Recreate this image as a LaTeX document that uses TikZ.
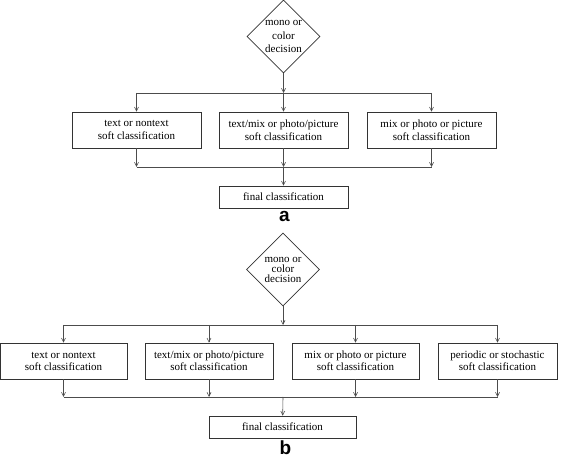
\documentclass[tikz,border=0pt]{standalone}
\usepackage{fontspec}
\setmainfont{Liberation Serif}
\newfontfamily\tagfont{Liberation Sans}
\usetikzlibrary{shapes.geometric,arrows.meta}
\tikzset{
  cls/.style={draw=black!80, line width=0.6pt, minimum height=36pt, inner sep=0pt, align=center, font=\fontsize{11}{13}\selectfont},
  fin/.style={draw=black!80, line width=0.6pt, minimum height=22pt, inner sep=0pt, font=\fontsize{11}{12}\selectfont},
  dec/.style={diamond, draw=black!80, line width=0.6pt, minimum width=73pt, minimum height=73pt, inner sep=0pt},
  flow/.style={draw=black!70, line width=0.6pt},
  arr/.style={flow, -{Straight Barb[length=4pt,width=4pt]}},
  tag/.style={font=\tagfont\bfseries\fontsize{19}{19}\selectfont, inner sep=0pt},
}
\begin{document}
\begin{tikzpicture}[x=1pt,y=-1pt]
\useasboundingbox (0,0) rectangle (566,457);
% part a
\node[dec, label={[align=center,font=\fontsize{11}{13.5}\selectfont]center:{mono or\\color\\decision}}] (deca) at (283.5,36.5){};
\coordinate (sa) at (283.5,93);
\coordinate (ja) at (283.5,167);
\node[cls, minimum width=129pt] (a1) at (136.5,130) {text or nontext\\soft classification};
\node[cls, minimum width=129pt] (a2) at (283.5,130) {text/mix or photo/picture\\soft classification};
\node[cls, minimum width=129pt] (a3) at (431.5,130) {mix or photo or picture\\soft classification};
\node[fin, minimum width=129pt] (fina) at (283.5,197) {final classification};
\node[tag] (taga) at (284.5,216) {a};
\draw[arr] (deca) -- (sa);
\draw[flow] (a1 |- sa) -- (a3 |- sa);
\draw[arr] (a1 |- sa) -- (a1);
\draw[arr] (sa) -- (a2);
\draw[arr] (a3 |- sa) -- (a3);
\draw[arr] (a1) -- (a1 |- ja);
\draw[arr] (a2) -- (ja);
\draw[arr] (a3) -- (a3 |- ja);
\draw[flow] (a1 |- ja) -- (a3 |- ja);
\draw[arr] (ja) -- (fina);

% part b
\node[dec, label={[align=center,font=\fontsize{11}{10}\selectfont]center:{mono or\\color\\decision}}] (decb) at (283,269.5){};
\coordinate (sb) at (283,325);
\coordinate (jb) at (283,397);
\node[cls, minimum width=127pt, font=\fontsize{11}{12}\selectfont] (b1) at (63.5,361) {text or nontext\\soft classification};
\node[cls, minimum width=128pt, font=\fontsize{11}{12}\selectfont] (b2) at (209,361) {text/mix or photo/picture\\soft classification};
\node[cls, minimum width=127pt, font=\fontsize{11}{12}\selectfont] (b3) at (355.5,361) {mix or photo or picture\\soft classification};
\node[cls, minimum width=119pt, font=\fontsize{11}{12}\selectfont] (b4) at (497.5,361) {periodic or stochastic\\soft classification};
\node[fin, minimum width=147pt] (finb) at (282.5,427) {final classification};
\node[tag] (tagb) at (285.5,447.5) {b};
\draw[arr] (decb) -- (sb);
\draw[flow] (b1 |- sb) -- (b4 |- sb);
\draw[arr] (b1 |- sb) -- (b1);
\draw[arr] (b2 |- sb) -- (b2);
\draw[arr] (b3 |- sb) -- (b3);
\draw[arr] (b4 |- sb) -- (b4);
\draw[arr] (b1) -- (b1 |- jb);
\draw[arr] (b2) -- (b2 |- jb);
\draw[arr] (b3) -- (b3 |- jb);
\draw[arr] (b4) -- (b4 |- jb);
\draw[flow] (b1 |- jb) -- (b4 |- jb);
\draw[arr] (jb) -- (finb);

\end{tikzpicture}
\end{document}
